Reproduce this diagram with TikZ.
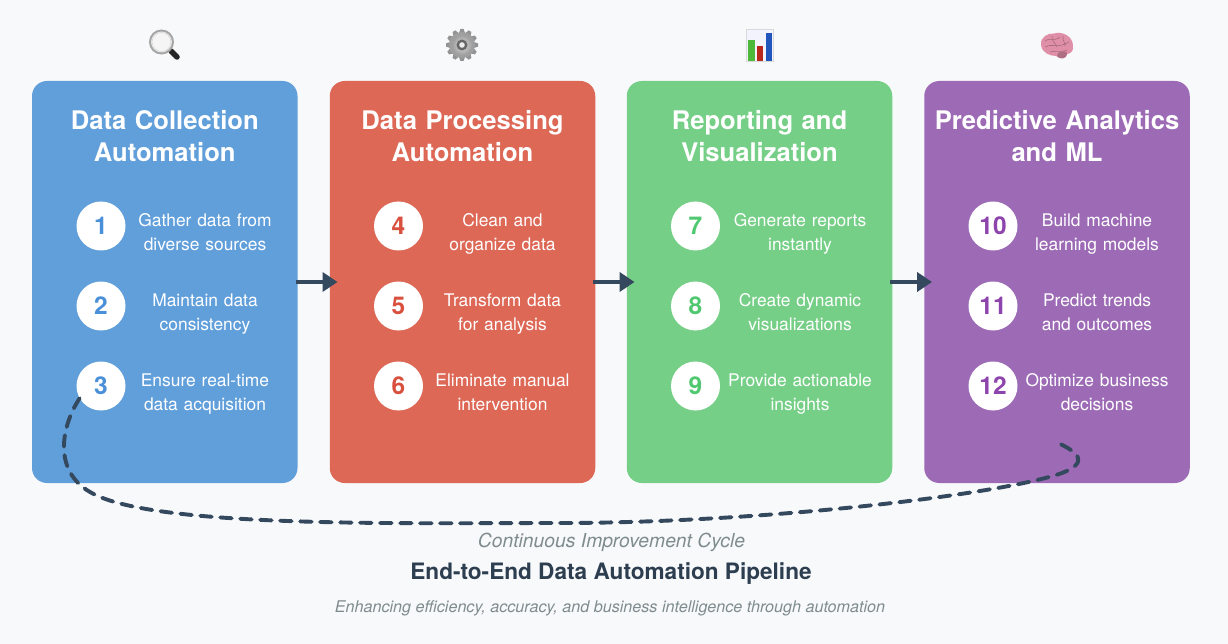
\documentclass[tikz,border=0pt]{standalone}
\usepackage{fontspec}
\setmainfont{TeX Gyre Heros}
\usetikzlibrary{arrows.meta}
\definecolor{bgc}{HTML}{F8F9FB}
\definecolor{cblue}{HTML}{619FDB}
\definecolor{cred}{HTML}{DD6856}
\definecolor{cgreen}{HTML}{76CF87}
\definecolor{cpurple}{HTML}{9D6BB6}
\definecolor{nblue}{HTML}{4A90D9}
\definecolor{nred}{HTML}{D9503F}
\definecolor{ngreen}{HTML}{4FC870}
\definecolor{npurple}{HTML}{8E44AD}
\definecolor{dark}{HTML}{34495E}
\definecolor{titlec}{HTML}{2C3E50}
\definecolor{greyt}{HTML}{7F8C8D}
\definecolor{brainc}{HTML}{E08FA8}
\newcommand{\twolines}[2]{\strut #1\\\strut #2}
\tikzset{
  panel/.style={minimum width=265.5pt,minimum height=402pt,rounded corners=15pt,inner sep=0pt,fill=#1},
  paneltitle/.style={text=white,font=\fontsize{25.6}{32}\selectfont\bfseries,align=center,inner sep=0pt,text width=262pt},
  badge/.style={circle,fill=white,minimum size=49pt,inner sep=0pt,font=\fontsize{24.5}{28}\selectfont\bfseries,text=#1},
  itemtext/.style={text=white,font=\fontsize{17.4}{24}\selectfont,align=center,inner sep=0pt,text width=180pt},
  flow/.style={draw=dark,line width=4pt,-{Triangle[length=15pt,width=19pt]}},
  cycle/.style={draw=dark,line width=3.9pt,dash pattern=on 11.5pt off 8.5pt,line cap=round},
}
\begin{document}
\begin{tikzpicture}[x=1pt,y=-1pt]
\useasboundingbox (0,0) rectangle (1228,644);
\fill[bgc] (0,0) rectangle (1228,644);
% panels
\node[panel=cblue] (p1) at (164.75,282) {};
\node[panel=cred] (p2) at (462.5,282) {};
\node[panel=cgreen] (p3) at (759.5,282) {};
\node[panel=cpurple] (p4) at (1057,282) {};
% titles
\node[paneltitle] (t1) at (164.75,136) {Data Collection\\Automation};
\node[paneltitle] (t2) at (462.5,136) {Data Processing\\Automation};
\node[paneltitle] (t3) at (759.5,136) {Reporting and\\Visualization};
\node[paneltitle] (t4) at (1057,136) {Predictive Analytics\\and ML};
% cycle
\coordinate (cycleend) at (1056,442);
\coordinate (cyclemid) at (560,523);
% badges
\node[badge=nblue] (b1) at (101,226) {1};
\node[badge=nblue] (b2) at (101,306) {2};
\node[badge=nblue] (b3) at (101,386) {3};
\node[badge=nred] (b4) at (398.5,226) {4};
\node[badge=nred] (b5) at (398.5,306) {5};
\node[badge=nred] (b6) at (398.5,386) {6};
\node[badge=ngreen] (b7) at (695.5,226) {7};
\node[badge=ngreen] (b8) at (695.5,306) {8};
\node[badge=ngreen] (b9) at (695.5,386) {9};
\node[badge=npurple] (b10) at (993,226) {10};
\node[badge=npurple] (b11) at (993,306) {11};
\node[badge=npurple] (b12) at (993,386) {12};
% item texts
\node[itemtext] (i1) at (205,233.5) {\twolines{Gather data from}{diverse sources}};
\node[itemtext] (i2) at (205,313.5) {\twolines{Maintain data}{consistency}};
\node[itemtext] (i3) at (205,393.5) {\twolines{Ensure real-time}{data acquisition}};
\node[itemtext] (i4) at (502.5,233.5) {\twolines{Clean and}{organize data}};
\node[itemtext] (i5) at (502.5,313.5) {\twolines{Transform data}{for analysis}};
\node[itemtext] (i6) at (502.5,393.5) {\twolines{Eliminate manual}{intervention}};
\node[itemtext] (i7) at (800,233.5) {\twolines{Generate reports}{instantly}};
\node[itemtext] (i8) at (800,313.5) {\twolines{Create dynamic}{visualizations}};
\node[itemtext] (i9) at (800,393.5) {\twolines{Provide actionable}{insights}};
\node[itemtext] (i10) at (1097,233.5) {\twolines{Build machine}{learning models}};
\node[itemtext] (i11) at (1097,313.5) {\twolines{Predict trends}{and outcomes}};
\node[itemtext] (i12) at (1097,393.5) {\twolines{Optimize business}{decisions}};
% flow arrows
\draw[flow] ([xshift=-2pt]p1.east) -- ([xshift=8pt]p2.west);
\draw[flow] ([xshift=-2pt]p2.east) -- ([xshift=8pt]p3.west);
\draw[flow] ([xshift=-2pt]p3.east) -- ([xshift=8pt]p4.west);
\draw[cycle] (b3.210) .. controls (62,425) and (52,470) .. (90,492)
  .. controls (150,528) and (400,523) .. (cyclemid)
  .. controls (760,523) and (1000,495) .. (1062,473)
  .. controls (1090,462) and (1078,452) .. (cycleend);
% bottom text
\node[text=greyt,font=\fontsize{19.3}{22}\selectfont\itshape,inner sep=0pt] (cap) at (611.5,542.5) {Continuous Improvement Cycle};
\node[text=titlec,font=\fontsize{22.6}{26}\selectfont\bfseries,inner sep=0pt] (main) at (611,574) {End-to-End Data Automation Pipeline};
\node[text=greyt,font=\fontsize{16.15}{20}\selectfont\itshape,inner sep=0pt] (sub) at (610,608) {Enhancing efficiency, accuracy, and business intelligence through automation};
% magnifier icon
\draw[line width=5.5pt,line cap=round,color=black!85] (171,51) -- (177,57);
\draw[line width=2pt,color=gray!70,fill=white!92!gray] (161.5,42) circle (11.5pt);
\draw[line width=.5pt,color=gray!35] (161.5,42) circle (9.5pt);
% gear icon
\begin{scope}[shift={(462,45)}]
\foreach \a in {0,30,...,330}{
  \fill[gray!85,rotate=\a] (-3,-12) -- (-1.6,-16) -- (1.6,-16) -- (3,-12) -- cycle;
}
\fill[gray!75] (0,0) circle (13pt);
\shade[inner color=gray!30,outer color=gray!75] (0,0) circle (10pt);
\fill[gray!80!black] (0,0) circle (5.5pt);
\fill[white!85!gray] (0,0) circle (2.8pt);
\end{scope}
% chart icon
\fill[gray!12!blue!5!white] (746.5,29) rectangle (773,61.5);
\draw[line width=.4pt,gray!30] (746.5,29) rectangle (773,61.5);
\definecolor{barg}{HTML}{4DB83A}
\definecolor{barr}{HTML}{B8261C}
\definecolor{barb}{HTML}{2255BB}
\fill[barg] (748,40.5) rectangle (754.5,61);
\fill[barr] (757,46) rectangle (763,61);
\fill[barb] (766,33.5) rectangle (772,61);
% brain icon
\fill[brainc] (1041,45) .. controls (1040,37) and (1048,33) .. (1054,33.5)
  .. controls (1062,31) and (1073,36) .. (1073,46)
  .. controls (1074,51) and (1070,54) .. (1067,54)
  .. controls (1067,59) and (1060,60) .. (1056,56)
  .. controls (1050,56) and (1042,53) .. (1041,45) -- cycle;
\draw[brainc!75!black,line width=.6pt] (1045,41) .. controls (1049,37) and (1055,42) .. (1060,37)
  (1045,47) .. controls (1051,43) and (1058,49) .. (1069,42)
  (1052,36) .. controls (1051,41) and (1056,43) .. (1057,47)
  (1063,36) .. controls (1062,41) and (1066,43) .. (1065,46)
  (1050,52) .. controls (1054,50) and (1060,53) .. (1067,50);
\fill[brainc!78!black] (1058,53) .. controls (1062,50.5) and (1068,51) .. (1067,54) .. controls (1067,58.5) and (1060,60) .. (1057,56) -- cycle;
\end{tikzpicture}
\end{document}
